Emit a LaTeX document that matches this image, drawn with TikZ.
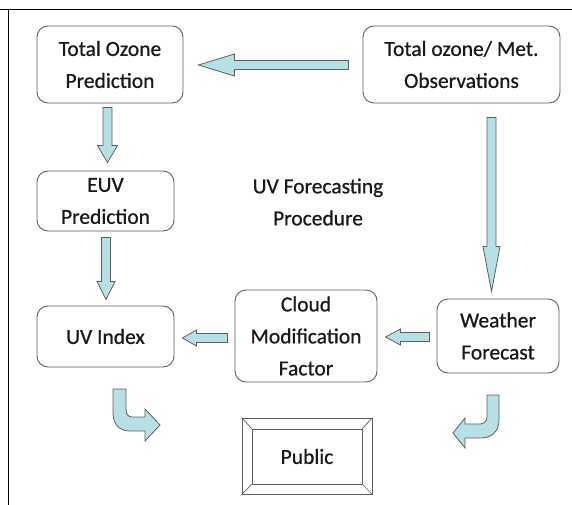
\documentclass[tikz,border=0pt]{standalone}
\usepackage{fontspec}
\setmainfont{Carlito}[BoldFont=Carlito, BoldFeatures={FakeBold=0.7}]
\usetikzlibrary{calc}
\definecolor{arfill}{RGB}{184,224,228}
\definecolor{edgegray}{RGB}{95,95,95}
\definecolor{txt}{RGB}{25,25,25}
\tikzset{
  box/.style={draw=edgegray, line width=0.9pt, rounded corners=11pt, align=center,
    inner sep=0pt, text=txt, font=\fontsize{21.5}{32}\selectfont\bfseries},
  blockar/.style={draw=edgegray, line width=0.8pt, fill=arfill, line join=miter},
  plainlbl/.style={align=center, inner sep=0pt, text=txt, font=\fontsize{21.5}{32}\selectfont\bfseries},
  frame/.style={draw=black, line width=0.9pt}
}
% leftward block arrow: #1 tail, #2 tip, #3 head length, #4 head half width
\newcommand\harrowL[4]{%
  \draw[blockar] let \p1=(#1), \p2=(#2) in
    (\x1,\y1+4.5pt) -- (\x2+#3,\y1+4.5pt) -- (\x2+#3,\y1+#4) -- (\x2,\y1)
    -- (\x2+#3,\y1-#4) -- (\x2+#3,\y1-4.5pt) -- (\x1,\y1-4.5pt) -- cycle;}
% downward block arrow
\newcommand\varrowD[4]{%
  \draw[blockar] let \p1=(#1), \p2=(#2) in
    (\x1-4.5pt,\y1) -- (\x1-4.5pt,\y2+#3) -- (\x1-#4,\y2+#3) -- (\x1,\y2)
    -- (\x1+#4,\y2+#3) -- (\x1+4.5pt,\y2+#3) -- (\x1+4.5pt,\y1) -- cycle;}
\begin{document}
\begin{tikzpicture}[x=1pt,y=-1pt]
\useasboundingbox (0,0) rectangle (572,505);
\fill[white] (0,0) rectangle (572,505);
% frame lines
\coordinate (fa) at (0,9);
\coordinate (fb) at (572,9);
\coordinate (fc) at (8,9);
\coordinate (fd) at (8,505);
\draw[frame] (fa) -- (fb);
\draw[frame] (fc) -- (fd);

% nodes
\node[box, minimum width=146pt, minimum height=77pt] (top) at (110,64.5) {Total Ozone\\Prediction};
\node[box, minimum width=197pt, minimum height=77pt] (obs) at (461.5,64.5) {Total ozone/ Met.\\Observations};
\node[box, minimum width=137pt, minimum height=60pt] (euv) at (105.5,201) {EUV\\Prediction};
\node[box, minimum width=137pt, minimum height=61pt] (uvi) at (105.5,336.5) {UV Index};
\node[box, minimum width=142pt, minimum height=92pt] (cmf) at (306,336) {Cloud\\Modification\\Factor};
\node[box, minimum width=122pt, minimum height=74pt] (wf) at (498,336) {Weather\\Forecast};
\node[plainlbl] (title) at (318,202) {UV Forecasting\\Procedure};

% public bevel box
\node[draw=edgegray, line width=0.9pt, minimum width=130pt, minimum height=76pt, inner sep=0pt] (pubout) at (307,456) {};
\node[draw=edgegray, line width=0.9pt, minimum width=110pt, minimum height=55pt, inner sep=0pt,
      text=txt, font=\fontsize{21.5}{32}\selectfont\bfseries] (pubin) at (307,456.5) {Public};
\draw[edgegray, line width=0.7pt] (pubout.north west) -- (pubin.north west);
\draw[edgegray, line width=0.7pt] (pubout.north east) -- (pubin.north east);
\draw[edgegray, line width=0.7pt] (pubout.south west) -- (pubin.south west);
\draw[edgegray, line width=0.7pt] (pubout.south east) -- (pubin.south east);

% connector end points
\coordinate (a1) at ($(obs.west)+(-14,0.5)$);
\coordinate (a2) at ($(top.east)+(15,0.5)$);
\coordinate (b1) at ($(top.south)+(-2.5,4)$);
\coordinate (b2) at ($(euv.north)+(2,-8)$);
\coordinate (c1) at ($(euv.south)+(0.5,6)$);
\coordinate (c2) at ($(uvi.north)+(0.5,-6)$);
\coordinate (d1) at ($(obs.south)+(30,14)$);
\coordinate (d2) at ($(wf.north)+(-6.5,-7)$);
\coordinate (e1) at ($(wf.west)+(-7,1)$);
\coordinate (e2) at ($(cmf.east)+(8,1)$);
\coordinate (f1) at ($(cmf.west)+(-7,2)$);
\coordinate (f2) at ($(uvi.east)+(8,2)$);

\harrowL{a1}{a2}{36pt}{11pt}
\varrowD{b1}{b2}{17pt}{10pt}
\varrowD{c1}{c2}{18pt}{9pt}
\varrowD{d1}{d2}{45pt}{8.5pt}
\harrowL{e1}{e2}{15pt}{8pt}
\harrowL{f1}{f2}{14pt}{8pt}

% bent arrows to the public
\draw[blockar] (113,389) -- (113,413) .. controls (113,424) and (119,431) .. (130,431)
  -- (145,431) -- (145,441) -- (160,425) -- (145,409) -- (145,417) -- (132,417)
  .. controls (128,417) and (126,414) .. (126,409) -- (126,389) -- cycle;
\draw[blockar] (499,395) -- (499,420) .. controls (499,431) and (492,438) .. (481,438)
  -- (465,438) -- (465,448) -- (453,433) -- (465,418) -- (465,424) -- (480,424)
  .. controls (484,424) and (487,421) .. (487,417) -- (487,395) -- cycle;
\end{tikzpicture}
\end{document}
